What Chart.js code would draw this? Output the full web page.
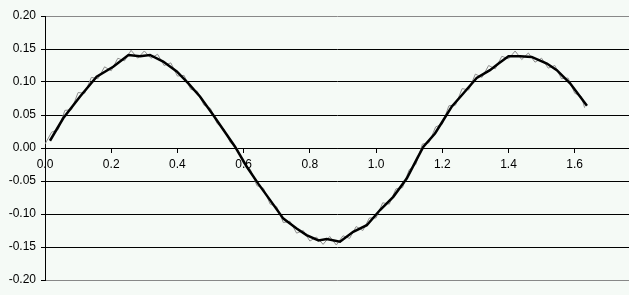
<!DOCTYPE html>
<html>
<head>
<meta charset="utf-8">
<script src="https://cdn.jsdelivr.net/npm/chart.js@4/dist/chart.umd.min.js"></script>
<style>
    body { margin: 0; background: #f5faf6; }
    #caja { width: 629px; height: 295px; }
</style>
</head>
<body>
<div id="caja"><canvas id="grafica" width="629" height="295"></canvas></div>
<script>
// Curva principal (negra)
const curvaX = [0.015, 0.055, 0.106, 0.156, 0.206, 0.252, 0.287, 0.317, 0.357, 0.398, 0.433, 0.468,
    0.508, 0.574, 0.609, 0.644, 0.680, 0.720, 0.760, 0.790, 0.826, 0.851, 0.891, 0.931, 0.972,
    1.012, 1.052, 1.093, 1.125, 1.143, 1.178, 1.203, 1.229, 1.264, 1.304, 1.344, 1.370, 1.400,
    1.435, 1.470, 1.516, 1.546, 1.586, 1.616, 1.637];
const curvaY = [0.011, 0.045, 0.078, 0.108, 0.123, 0.141, 0.139, 0.141, 0.131, 0.116, 0.098, 0.078,
    0.050, 0.002, -0.028, -0.054, -0.079, -0.107, -0.122, -0.132, -0.140, -0.138, -0.142, -0.127, -0.117,
    -0.094, -0.074, -0.046, -0.015, 0.002, 0.022, 0.042, 0.063, 0.083, 0.106, 0.118, 0.128, 0.139,
    0.139, 0.138, 0.128, 0.118, 0.098, 0.078, 0.064];

// Señal con ruido (gris)
const ruidoX = [0.00, 0.02, 0.04, 0.06, 0.08, 0.10, 0.12, 0.14, 0.16, 0.18, 0.20, 0.22, 0.24, 0.26,
    0.28, 0.30, 0.32, 0.34, 0.36, 0.38, 0.40, 0.42, 0.44, 0.46, 0.48, 0.50, 0.52, 0.54, 0.56, 0.58,
    0.60, 0.62, 0.64, 0.66, 0.68, 0.70, 0.72, 0.74, 0.76, 0.78, 0.80, 0.82, 0.84, 0.86, 0.88, 0.90,
    0.92, 0.94, 0.96, 0.98, 1.00, 1.02, 1.04, 1.06, 1.08, 1.10, 1.12, 1.14, 1.16, 1.18, 1.20, 1.22,
    1.24, 1.26, 1.28, 1.30, 1.32, 1.34, 1.36, 1.38, 1.40, 1.42, 1.44, 1.46, 1.48, 1.50, 1.52, 1.54,
    1.56, 1.58, 1.60, 1.62, 1.63];
const ruidoY = [0.006, 0.024, 0.028, 0.057, 0.058, 0.084, 0.083, 0.107, 0.105, 0.123, 0.117, 0.136, 0.132, 0.148,
    0.136, 0.147, 0.136, 0.142, 0.125, 0.129, 0.109, 0.110, 0.089, 0.086, 0.065, 0.060, 0.037, 0.029, 0.008, 0.000,
    -0.024, -0.032, -0.057, -0.061, -0.085, -0.089, -0.113, -0.111, -0.129, -0.125, -0.141, -0.135, -0.146, -0.134, -0.147, -0.133,
    -0.137, -0.119, -0.125, -0.106, -0.106, -0.083, -0.085, -0.062, -0.060, -0.033, -0.025, 0.006, 0.008, 0.032, 0.036, 0.064,
    0.065, 0.090, 0.088, 0.112, 0.107, 0.125, 0.120, 0.139, 0.135, 0.147, 0.134, 0.144, 0.130, 0.136, 0.121, 0.125,
    0.105, 0.106, 0.083, 0.078, 0.061];

// Marcas de los ejes
const marcasX = [0.0, 0.2, 0.4, 0.6, 0.8, 1.0, 1.2, 1.4, 1.6];
const marcasY = [-0.20, -0.15, -0.10, -0.05, 0.00, 0.05, 0.10, 0.15, 0.20];

function puntos(xs, ys) {
    return xs.map((x, i) => ({ x: x, y: ys[i] }));
}

const fuente = { family: 'Liberation Sans, Arial, sans-serif', size: 12 };

new Chart(document.getElementById('grafica').getContext('2d'), {
    type: 'line',
    data: {
        datasets: [{
            data: puntos(curvaX, curvaY),
            borderColor: '#000000',
            borderWidth: 2.5,
            pointRadius: 0,
            tension: 0
        }, {
            data: puntos(ruidoX, ruidoY),
            borderColor: '#8c8c8c',
            borderWidth: 1,
            pointRadius: 0,
            tension: 0
        }]
    },
    options: {
        responsive: false,
        animation: false,
        layout: { padding: { top: 16, bottom: 15, left: 0, right: 0 } },
        plugins: { legend: { display: false }, tooltip: { enabled: false } },
        scales: {
            x: {
                type: 'linear',
                position: { y: 0 },
                min: 0,
                max: 1.764,
                afterBuildTicks: axis => { axis.ticks = marcasX.map(v => ({ value: v })); },
                grid: { drawOnChartArea: false, drawTicks: true, tickLength: 4, color: '#000' },
                border: { color: '#000', width: 1 },
                ticks: {
                    color: '#000',
                    font: fuente,
                    padding: 5,
                    maxRotation: 0,
                    callback: v => v.toFixed(1)
                }
            },
            y: {
                min: -0.2,
                max: 0.2,
                afterBuildTicks: axis => { axis.ticks = marcasY.map(v => ({ value: v })); },
                afterFit: axis => { axis.width = 45; },
                grid: {
                    color: ctx => (Math.abs(ctx.tick.value) > 0.19 ? '#888888' : '#000000'),
                    tickColor: '#000',
                    tickLength: 4
                },
                border: { color: '#000', width: 1 },
                ticks: {
                    color: '#000',
                    font: fuente,
                    padding: 5,
                    callback: v => v.toFixed(2)
                }
            }
        }
    }
});
</script>
</body>
</html>
